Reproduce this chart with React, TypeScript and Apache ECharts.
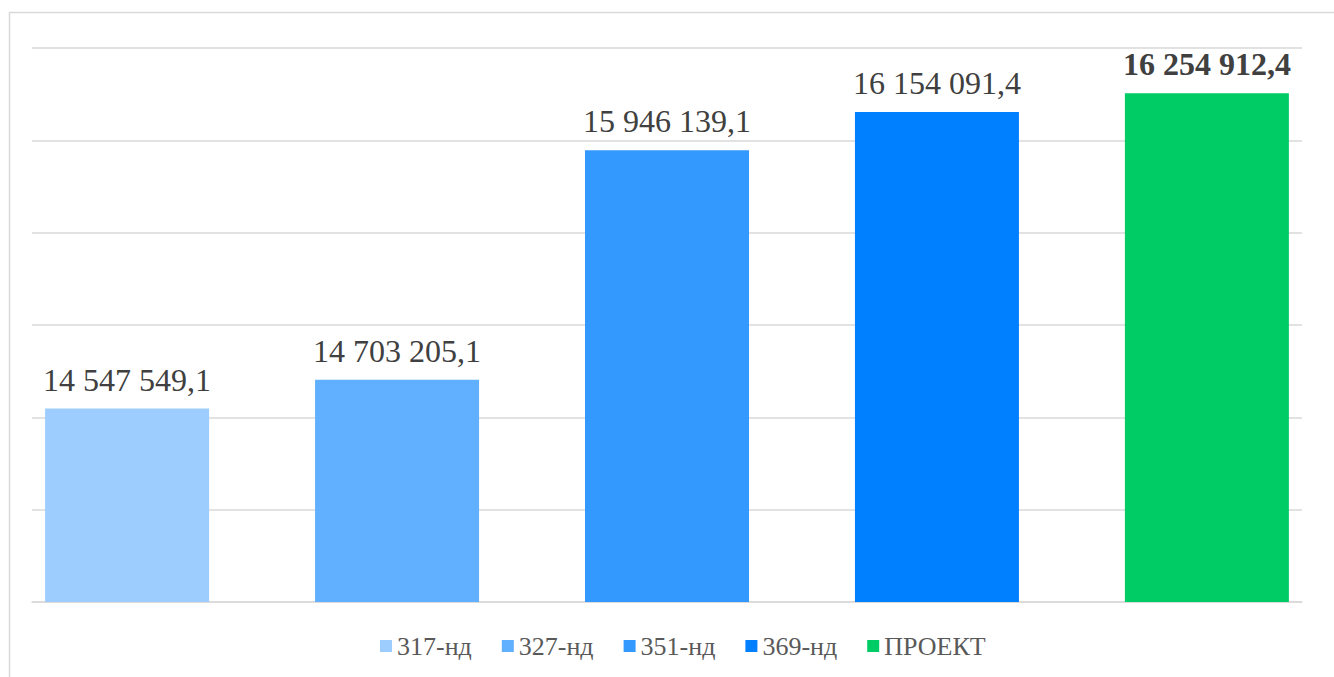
import React, { useEffect, useRef } from "react";
import * as echarts from "echarts";

const seriesNames = ["317-нд", "327-нд", "351-нд", "369-нд", "ПРОЕКТ"];
const seriesValues = [14547549.1, 14703205.1, 15946139.1, 16154091.4, 16254912.4];
const seriesColors = ["#9DCCFF", "#61AFFF", "#3399FF", "#007FFF", "#00CC66"];
const boldLabel = [false, false, false, false, true];
const category = [""];

function fmt(v: number): string {
  const [intPart, dec] = v.toFixed(1).split(".");
  const withSpaces = intPart.replace(/\B(?=(\d{3})+(?!\d))/g, " ");
  return withSpaces + "," + dec;
}

export default function App() {
  const ref = useRef<HTMLDivElement>(null);
  useEffect(() => {
    if (!ref.current) return;
    const chart = echarts.init(ref.current, null, { renderer: "svg" });
    const font = "Liberation Serif";
    chart.setOption({
      animation: false,
      backgroundColor: "#ffffff",
      graphic: [
        {
          type: "rect",
          shape: { x: 9.5, y: 12.5, width: 1400, height: 700 },
          style: { fill: "none", stroke: "#d9d9d9", lineWidth: 1.5 },
          silent: true,
        },
      ],
      grid: { left: 32, right: 32, top: 48, bottom: 75 },
      legend: {
        top: 628,
        left: 375,
        icon: "rect",
        itemWidth: 12,
        itemHeight: 12,
        itemGap: 30,
        data: seriesNames,
        textStyle: { fontFamily: font, fontSize: 26, color: "#595959" },
      },
      xAxis: {
        type: "category",
        data: category,
        axisLine: { lineStyle: { color: "#d9d9d9", width: 1.5 } },
        axisTick: { show: false },
        axisLabel: { show: false },
      },
      yAxis: {
        type: "value",
        min: 13500000,
        max: 16500000,
        interval: 500000,
        axisLabel: { show: false },
        axisLine: { show: false },
        axisTick: { show: false },
        splitLine: { lineStyle: { color: "#d9d9d9", width: 1.5 } },
      },
      series: seriesNames.map((name, i) => ({
        name,
        type: "bar",
        data: [seriesValues[i]],
        barWidth: 164,
        barGap: "64.6%",
        itemStyle: { color: seriesColors[i] },
        label: {
          show: true,
          position: "top",
          distance: 13,
          formatter: (p: any) => fmt(p.value),
          fontFamily: font,
          fontSize: 32,
          fontWeight: boldLabel[i] ? "bold" : "normal",
          color: "#404040",
        },
      })),
    });
    return () => chart.dispose();
  }, []);
  return (
    <div
      ref={ref}
      style={{ position: "fixed", left: 0, top: 0, width: 1334, height: 677 }}
    />
  );
}
